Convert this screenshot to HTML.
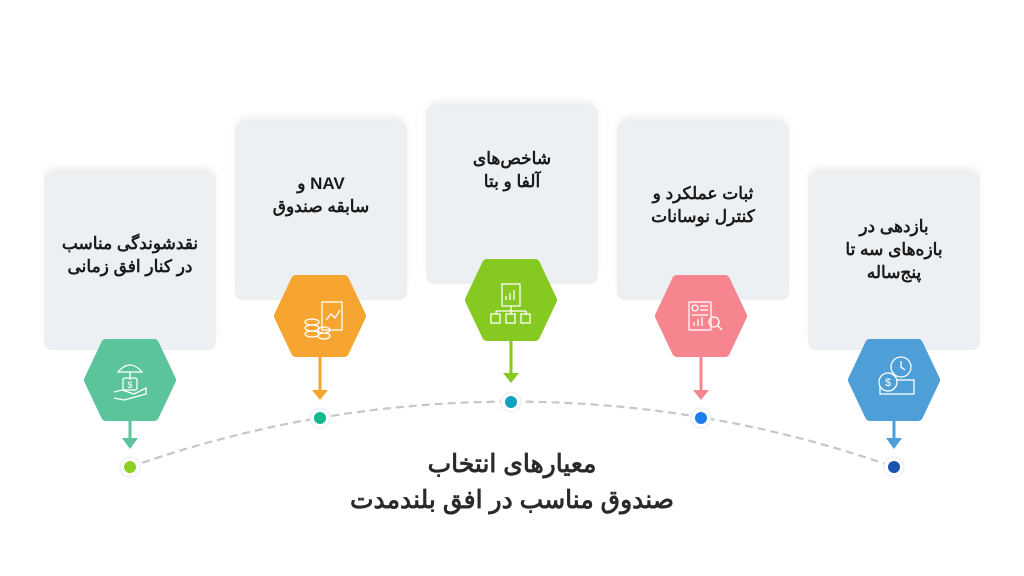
<!DOCTYPE html>
<html><head><meta charset="utf-8"><style>
html,body{margin:0;padding:0;background:#fff;}
body{width:1024px;height:576px;position:relative;overflow:hidden;font-family:"Liberation Sans","Noto Sans CJK SC",sans-serif;}
.card{position:absolute;width:172px;height:178px;background:#ecf0f3;border-radius:8px;box-shadow:0 -6px 10px -4px rgba(0,0,0,0.12);}
.t{position:absolute;width:172px;text-align:center;direction:rtl;font-weight:bold;font-size:17px;line-height:23px;color:#1a1a1a;}
.title{position:absolute;left:262px;width:500px;text-align:center;direction:rtl;font-weight:bold;font-size:25px;line-height:36px;color:#2a2a2a;top:446px;}
svg{position:absolute;left:0;top:0;}
</style></head><body>
<div class="card" style="left:44px;top:172px"></div>
<div class="card" style="left:235px;top:122px"></div>
<div class="card" style="left:426px;top:106px"></div>
<div class="card" style="left:617px;top:122px"></div>
<div class="card" style="left:808px;top:172px"></div>
<div class="t" style="left:44px;top:232px">نقدشوندگی مناسب<br>در کنار افق زمانی</div>
<div class="t" style="left:235px;top:172px">NAV و<br>سابقه صندوق</div>
<div class="t" style="left:426px;top:147px">شاخص‌های<br>آلفا و بتا</div>
<div class="t" style="left:617px;top:182px">ثبات عملکرد و<br>کنترل نوسانات</div>
<div class="t" style="left:808px;top:215px">بازدهی در<br>بازه‌های سه تا<br>پنج‌ساله</div>
<div class="title">معیارهای انتخاب<br>صندوق مناسب در افق بلندمدت</div>
<svg width="1024" height="576" viewBox="0 0 1024 576">
<path d="M130 467 A1149 1149 0 0 1 894 467" fill="none" stroke="#c6c6cc" stroke-width="2.2" stroke-dasharray="8 5"/>
<defs>
<g id="hex"><polygon points="-41,0 -24,-36 24,-36 41,0 24,36 -24,36" stroke-width="10" stroke-linejoin="round"/></g>
</defs>
<g fill="#5cc49a" stroke="#5cc49a">
<use href="#hex" x="130" y="380"/>
<line x1="130" y1="420" x2="130" y2="440" stroke-width="3"/><polygon points="122,438 138,438 130,449" stroke="none"/>
</g>
<g fill="#f7a531" stroke="#f7a531">
<use href="#hex" x="320" y="316"/>
<line x1="320" y1="356" x2="320" y2="392" stroke-width="3"/><polygon points="312,390 328,390 320,400" stroke="none"/>
</g>
<g fill="#86c920" stroke="#86c920">
<use href="#hex" x="511" y="300"/>
<line x1="511" y1="340" x2="511" y2="375" stroke-width="3"/><polygon points="503,373 519,373 511,383" stroke="none"/>
</g>
<g fill="#f7858f" stroke="#f7858f">
<use href="#hex" x="701" y="316"/>
<line x1="701" y1="356" x2="701" y2="392" stroke-width="3"/><polygon points="693,390 709,390 701,400" stroke="none"/>
</g>
<g fill="#4e9ed8" stroke="#4e9ed8">
<use href="#hex" x="894" y="380"/>
<line x1="894" y1="420" x2="894" y2="440" stroke-width="3"/><polygon points="886,438 902,438 894,449" stroke="none"/>
</g>
<g stroke="#e4ecec" stroke-width="1" fill="#fff">
<circle cx="130" cy="467" r="10"/><circle cx="320" cy="418" r="10"/><circle cx="511" cy="402" r="10"/><circle cx="701" cy="418" r="10"/><circle cx="894" cy="467" r="10"/>
</g>
<circle cx="130" cy="467" r="6" fill="#8bd020"/>
<circle cx="320" cy="418" r="6" fill="#10b98f"/>
<circle cx="511" cy="402" r="6" fill="#12a0c0"/>
<circle cx="701" cy="418" r="6" fill="#1a7ef0"/>
<circle cx="894" cy="467" r="6" fill="#1c52b0"/>
<g fill="none" stroke="#fff" stroke-width="1.3">
<path d="M118 372 Q130 358 142 372 Z"/><line x1="130" y1="372" x2="130" y2="380"/>
<rect x="123" y="378" width="14" height="12" rx="2"/><text x="130" y="388" font-size="9" fill="#fff" stroke="none" text-anchor="middle">$</text>
<path d="M114 392 L122 390 L134 394 L146 388 L146 394 L124 400 L114 398"/>
<rect x="322" y="302" width="20" height="28"/><polyline points="326,320 331,314 335,318 340,310"/>
<ellipse cx="312" cy="322" rx="7" ry="3"/><ellipse cx="312" cy="328" rx="7" ry="3"/><ellipse cx="312" cy="334" rx="7" ry="3"/>
<ellipse cx="324" cy="330" rx="6" ry="3"/><ellipse cx="324" cy="336" rx="6" ry="3"/>
<rect x="502" y="284" width="18" height="22"/><line x1="506" y1="300" x2="506" y2="296"/><line x1="510" y1="300" x2="510" y2="293"/><line x1="514" y1="300" x2="514" y2="290"/>
<path d="M511 306 V311 M496 311 H526 M496 311 V314 M511 311 V314 M526 311 V314"/>
<rect x="491" y="314" width="9" height="9"/><rect x="506" y="314" width="9" height="9"/><rect x="521" y="314" width="9" height="9"/>
<rect x="689" y="302" width="22" height="28"/><circle cx="695" cy="308" r="3"/><line x1="700" y1="306" x2="708" y2="306"/><line x1="700" y1="310" x2="708" y2="310"/><line x1="692" y1="315" x2="708" y2="315"/>
<line x1="694" y1="326" x2="694" y2="322"/><line x1="698" y1="326" x2="698" y2="319"/><line x1="702" y1="326" x2="702" y2="317"/>
<circle cx="714" cy="322" r="5"/><line x1="718" y1="326" x2="722" y2="330"/>
<circle cx="901" cy="367" r="10"/><path d="M901 361 V367 L905 370"/>
<rect x="880" y="380" width="34" height="14"/><circle cx="888" cy="382" r="9" fill="#4e9ed8"/><text x="888" y="386" font-size="11" fill="#fff" stroke="none" text-anchor="middle">$</text>
</g>
</svg>
</body></html>
